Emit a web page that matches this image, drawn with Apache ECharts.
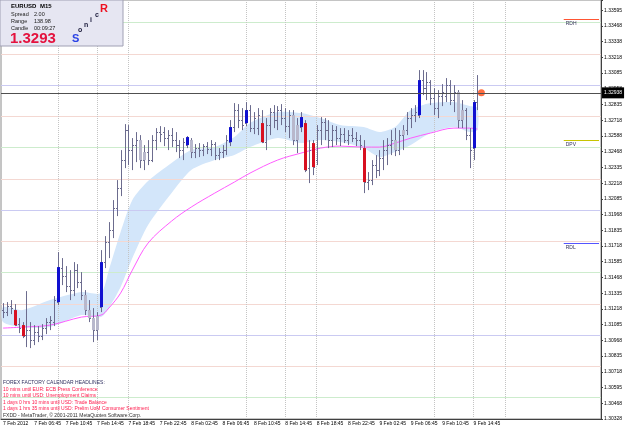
<!DOCTYPE html>
<html>
<head>
<meta charset="utf-8">
<title>EURUSD M15</title>
<script src="https://cdn.jsdelivr.net/npm/echarts@6/dist/echarts.min.js"></script>
<style>
  html, body { margin: 0; padding: 0; background: #fff; }
  #chart { width: 625px; height: 429px; }
</style>
</head>
<body>
<div id="chart"></div>
<script>
// time axis labels, one every 8 slots
const timeLabels = ['7 Feb 2012', '7 Feb 06:45', '7 Feb 10:45', '7 Feb 14:45', '7 Feb 18:45', '7 Feb 22:45',
  '8 Feb 02:45', '8 Feb 06:45', '8 Feb 10:45', '8 Feb 14:45', '8 Feb 18:45', '8 Feb 22:45',
  '9 Feb 02:45', '9 Feb 06:45', '9 Feb 10:45', '9 Feb 14:45'];

// price scale labels, bottom to top (1.32958 sits under the bid box)
const yTickLabels = ['1.30328', '1.30468', '1.30595', '1.30718', '1.30835', '1.30968', '1.31085', '1.31218',
  '1.31335', '1.31468', '1.31585', '1.31718', '1.31835', '1.31968', '1.32085', '1.32218', '1.32335',
  '1.32468', '1.32588', '1.32718', '1.32835', '1.32958', '1.33085', '1.33218', '1.33338', '1.33468', '1.33595'];
const yStep = 0.001258;
const yMin = 1036 * yStep;   // 1.303288, a multiple of the step
const yMax = 1.336808;

const opens = [
  1.312, 1.31184, 1.31232, 1.312, 1.31088, 1.3108, 1.31, 1.3104, 1.3096, 1.31024,
  1.30992, 1.31056, 1.31104, 1.31104, 1.31264, 1.31536, 1.31472, 1.31392, 1.3136, 1.3152,
  1.31424, 1.3132, 1.312, 1.31136, 1.3104, 1.31224, 1.31584, 1.31744, 1.3184, 1.32016,
  1.32176, 1.324, 1.3264, 1.3248, 1.3252, 1.3256, 1.324, 1.32464, 1.324, 1.3256,
  1.32624, 1.32624, 1.32576, 1.326, 1.3256, 1.3252, 1.3248, 1.3252, 1.3256, 1.32464,
  1.32496, 1.3248, 1.32512, 1.32488, 1.32528, 1.3244, 1.32464, 1.3248, 1.32544, 1.32664,
  1.328, 1.3272, 1.32696, 1.328, 1.32656, 1.32656, 1.32696, 1.32544, 1.3268, 1.32784,
  1.3272, 1.328, 1.32736, 1.32672, 1.3276, 1.3256, 1.32664, 1.32696, 1.32336, 1.32536,
  1.324, 1.3264, 1.32704, 1.3264, 1.3256, 1.3264, 1.32576, 1.32608, 1.3256, 1.326,
  1.32576, 1.3256, 1.32496, 1.32224, 1.3224, 1.3236, 1.3232, 1.32416, 1.3248, 1.3252,
  1.3256, 1.3248, 1.326, 1.3264, 1.32736, 1.3276, 1.3276, 1.3304, 1.32976, 1.33024,
  1.32896, 1.32816, 1.32912, 1.32912, 1.33, 1.3288, 1.32944, 1.3272, 1.328, 1.326,
  1.32496, 1.32864];
const highs = [
  1.31256, 1.31264, 1.3128, 1.31248, 1.31136, 1.31104, 1.31352, 1.31104, 1.3108, 1.31072,
  1.31088, 1.31136, 1.31152, 1.31312, 1.31664, 1.31616, 1.31552, 1.3152, 1.31584, 1.31568,
  1.31504, 1.3136, 1.3128, 1.31216, 1.31184, 1.3168, 1.31792, 1.31904, 1.3208, 1.3224,
  1.3248, 1.32688, 1.3268, 1.32576, 1.32624, 1.326, 1.3252, 1.3256, 1.326, 1.32656,
  1.32672, 1.32664, 1.3264, 1.32656, 1.32624, 1.3256, 1.32576, 1.32592, 1.32576, 1.32528,
  1.32536, 1.32528, 1.32544, 1.3256, 1.32544, 1.32496, 1.3252, 1.326, 1.3272, 1.32856,
  1.32848, 1.32816, 1.32864, 1.3284, 1.32784, 1.32816, 1.328, 1.32736, 1.32816, 1.3284,
  1.32832, 1.32848, 1.32816, 1.328, 1.328, 1.32736, 1.32784, 1.3272, 1.3256, 1.3256,
  1.3268, 1.32744, 1.32736, 1.3272, 1.3268, 1.32672, 1.32656, 1.32656, 1.3264, 1.32656,
  1.32624, 1.326, 1.3256, 1.32304, 1.324, 1.3244, 1.3248, 1.3256, 1.32576, 1.3264,
  1.32656, 1.3264, 1.3268, 1.32784, 1.32816, 1.3284, 1.3312, 1.3312, 1.33104, 1.3304,
  1.32976, 1.3296, 1.33008, 1.33056, 1.3304, 1.33, 1.3296, 1.3288, 1.32816, 1.32656,
  1.3288, 1.3308];
const lows = [
  1.31136, 1.31152, 1.31168, 1.31072, 1.31016, 1.30976, 1.30904, 1.30896, 1.3092, 1.30944,
  1.3096, 1.31008, 1.3104, 1.31072, 1.3124, 1.314, 1.31344, 1.3128, 1.31312, 1.31376,
  1.3128, 1.3116, 1.31104, 1.30944, 1.3096, 1.31184, 1.31536, 1.31616, 1.31776, 1.31952,
  1.32112, 1.32336, 1.3236, 1.3232, 1.32384, 1.32336, 1.3232, 1.3236, 1.32384, 1.3248,
  1.32544, 1.32512, 1.3248, 1.32504, 1.32464, 1.32416, 1.324, 1.32496, 1.32416, 1.32416,
  1.32424, 1.32432, 1.32448, 1.32432, 1.324, 1.324, 1.32416, 1.3244, 1.32512, 1.32624,
  1.32656, 1.3264, 1.32672, 1.32624, 1.32608, 1.326, 1.32536, 1.3248, 1.326, 1.32656,
  1.3264, 1.3268, 1.32624, 1.32576, 1.3252, 1.32456, 1.32624, 1.32304, 1.32216, 1.3228,
  1.3236, 1.3252, 1.3256, 1.32496, 1.32504, 1.3252, 1.32512, 1.32536, 1.3252, 1.32544,
  1.32512, 1.3248, 1.32136, 1.3216, 1.322, 1.32256, 1.32272, 1.3232, 1.3236, 1.3244,
  1.32432, 1.3244, 1.3248, 1.326, 1.32656, 1.32704, 1.32736, 1.3292, 1.3288, 1.3284,
  1.3276, 1.32736, 1.32832, 1.32864, 1.3284, 1.32784, 1.32656, 1.32656, 1.3256, 1.32336,
  1.324, 1.328];
const closes = [
  1.31184, 1.31232, 1.31216, 1.3108, 1.31056, 1.30992, 1.3104, 1.3096, 1.31024, 1.30992,
  1.31056, 1.31104, 1.3112, 1.3128, 1.31544, 1.31472, 1.31392, 1.3136, 1.3152, 1.31424,
  1.3132, 1.312, 1.31136, 1.3104, 1.31152, 1.31584, 1.31744, 1.3184, 1.32016, 1.32176,
  1.324, 1.3264, 1.3248, 1.3252, 1.3256, 1.324, 1.32464, 1.324, 1.3256, 1.32624,
  1.32608, 1.32576, 1.326, 1.3256, 1.3252, 1.3248, 1.32544, 1.32584, 1.32464, 1.32496,
  1.3248, 1.32512, 1.32488, 1.32528, 1.3244, 1.32464, 1.3248, 1.3256, 1.32664, 1.328,
  1.3272, 1.3268, 1.328, 1.32656, 1.32736, 1.3276, 1.32544, 1.3268, 1.32784, 1.3272,
  1.328, 1.32736, 1.32672, 1.3276, 1.3256, 1.3268, 1.32744, 1.3232, 1.3248, 1.32344,
  1.3264, 1.32704, 1.3264, 1.3256, 1.3264, 1.32576, 1.32608, 1.3256, 1.326, 1.32576,
  1.3256, 1.3252, 1.32224, 1.3224, 1.3236, 1.3232, 1.32416, 1.3248, 1.3252, 1.3256,
  1.3248, 1.326, 1.3264, 1.32736, 1.3276, 1.32784, 1.3304, 1.32976, 1.33024, 1.32896,
  1.32816, 1.32912, 1.32944, 1.33, 1.3288, 1.32944, 1.3272, 1.328, 1.326, 1.3248,
  1.32864, 1.32938];

// bars painted with a coloured body
const blueBars = [14, 25, 47, 58, 62, 76, 106, 120];
const redBars = [3, 5, 66, 77, 79, 92];
const greyBars = [21, 22, 23, 24, 35, 36, 48, 74, 75, 100, 102, 116, 117];

// dragon band and slow MA, read at these bar indices
const bandIdx = [0, 5, 12, 20, 25, 27, 30, 33, 37, 43, 48, 54, 59, 63, 70, 76, 81, 86, 92, 96, 100, 104, 109, 115, 119, 121];
const bandUpper = [1.31224, 1.312, 1.3128, 1.31344, 1.31336, 1.3152, 1.31824, 1.3208, 1.32232, 1.32376, 1.3248, 1.32504, 1.32584,
  1.32696, 1.32784, 1.32776, 1.32736, 1.3268, 1.32664, 1.32624, 1.32664, 1.328, 1.32856, 1.32864, 1.32832, 1.32816];
const bandLower = [1.31104, 1.31064, 1.31064, 1.3116, 1.31144, 1.31216, 1.31384, 1.31616, 1.3188, 1.32136, 1.3232, 1.324, 1.3244,
  1.32504, 1.32576, 1.32536, 1.3256, 1.32544, 1.32496, 1.32424, 1.32464, 1.3252, 1.32616, 1.32664, 1.32624, 1.3264];
const maIdx = [0, 5, 12, 20, 25, 27, 30, 33, 37, 43, 48, 54, 59, 63, 70, 76, 81, 86, 92, 96, 100, 104, 109, 115, 119, 121];
const maValues = [1.31056, 1.31064, 1.3108, 1.31144, 1.3116, 1.31216, 1.31336, 1.3152, 1.31736, 1.31912, 1.32024, 1.32136, 1.32224,
  1.32296, 1.324, 1.32456, 1.32496, 1.32512, 1.32504, 1.32504, 1.32536, 1.32576, 1.32616, 1.32656, 1.32656, 1.32648];

const quarterLevels = [1.3050, 1.3075, 1.3100, 1.3125, 1.3150, 1.3175, 1.3200, 1.3225, 1.3250, 1.3275, 1.3300, 1.3325, 1.3350];
const sessionLines = [14, 24, 32, 62, 72, 80, 110, 120, 128];
const levelNames = ['RDH', 'DPV', 'RDL'];
const levelPrices = [1.33528, 1.3256, 1.31736];
const levelColors = ['#ff5533', '#c8c400', '#5555ff'];
const bidPrice = 1.32938;

const calendarHead = 'FOREX FACTORY CALENDAR HEADLINES:';
const calendarLines = ['10 mins until EUR: ECB Press Conference', '10 mins until USD: Unemployment Claims',
  '1 days 0 hrs 10 mins until USD: Trade Balance', '1 days 1 hrs 35 mins until USD: Prelim UoM Consumer Sentiment'];

const slotCount = 153;
const FONT = '"Liberation Sans", Arial, sans-serif';

const blueSet = new Set(blueBars), redSet = new Set(redBars), greySet = new Set(greyBars);

function bodyColor(j) {
  if (blueSet.has(j)) return '#1010d0';
  if (redSet.has(j)) return '#d81020';
  if (greySet.has(j)) return '#b8b8cc';
  return null;
}

function drawBar(params, api) {
  const j = api.value(0);
  const x = Math.round(api.coord([j, yMin])[0]) + 0.5;
  const yO = api.coord([j, api.value(1)])[1];
  const yH = api.coord([j, api.value(2)])[1];
  const yL = api.coord([j, api.value(3)])[1];
  const yC = api.coord([j, api.value(4)])[1];
  const stroke = '#6c6c8e';
  const kids = [
    { type: 'line', shape: { x1: x, y1: yH, x2: x, y2: yL }, style: { stroke, lineWidth: 1 } },
    { type: 'line', shape: { x1: x - 1.5, y1: Math.round(yO) + 0.5, x2: x, y2: Math.round(yO) + 0.5 }, style: { stroke, lineWidth: 1 } },
    { type: 'line', shape: { x1: x, y1: Math.round(yC) + 0.5, x2: x + 1.5, y2: Math.round(yC) + 0.5 }, style: { stroke, lineWidth: 1 } }
  ];
  const body = bodyColor(j);
  if (body) {
    kids.push({ type: 'rect', shape: { x: x - 1.5, y: Math.min(yO, yC), width: 3, height: Math.max(1, Math.abs(yC - yO)) }, style: { fill: body } });
  }
  return { type: 'group', children: kids };
}

function drawBand(params, api) {
  if (params.dataIndex !== 0) return null;
  const top = bandIdx.map((j, k) => api.coord([j, bandUpper[k]]));
  const bottom = bandIdx.map((j, k) => api.coord([j, bandLower[k]])).reverse();
  return { type: 'polygon', shape: { points: top.concat(bottom), smooth: 0.25 }, style: { fill: '#d3e6fa' } };
}

function levelColor(l) {
  const r = Math.round(l * 10000) % 100;
  if (r === 0) return '#cacaf2';
  if (r === 50) return '#cdeccd';
  return '#f4d8d2';
}

const labelEvery = (i) => i % 8 === 0 && i / 8 < timeLabels.length;

const txt = (text, x, y, font, fill) => ({
  type: 'text', x, y, z: 100, silent: true,
  style: { text, font, fill, textVerticalAlign: 'top' }
});

const graphics = [
  { type: 'rect', x: 0, y: 0, z: 99, shape: { width: 123, height: 46 }, style: { fill: '#e6e6f2', stroke: '#a0a0b4', lineWidth: 1 }, silent: true },
  txt('EURUSD', 11, 3, 'bold 6px ' + FONT, '#000'),
  txt('M15', 40, 3, 'bold 6px ' + FONT, '#000'),
  txt('Spread', 11, 11, '5.5px ' + FONT, '#202020'),
  txt('2.00', 34, 11, '5.5px ' + FONT, '#202020'),
  txt('Range', 11, 18, '5.5px ' + FONT, '#202020'),
  txt('138.98', 34, 18, '5.5px ' + FONT, '#202020'),
  txt('Candle', 11, 25, '5.5px ' + FONT, '#202020'),
  txt('00:09:27', 34, 25, '5.5px ' + FONT, '#202020'),
  txt('1.3293', 10, 31.5, 'bold 15px ' + FONT, '#e4123e'),
  txt('S', 72, 33.5, 'bold 11px ' + FONT, '#2a42e6'),
  txt('o', 78, 26.5, 'bold 7px ' + FONT, '#202040'),
  txt('n', 84, 21.5, 'bold 7px ' + FONT, '#202040'),
  txt('i', 90, 17, 'bold 7px ' + FONT, '#202040'),
  txt('c', 95, 12, 'bold 7px ' + FONT, '#202040'),
  txt('R', 100, 3, 'bold 11px ' + FONT, '#ee1020'),
  txt(calendarHead, 3, 380.5, '5px ' + FONT, '#303060'),
  txt('FXDD - MetaTrader, \u00a9 2001-2011 MetaQuotes Software Corp.', 3, 413.5, '5px ' + FONT, '#303030')
].concat(calendarLines.map((t, k) => txt(t, 3, 387.5 + k * 6.1, '5px ' + FONT, '#ff1a4c')));

// shared price-axis settings; the second copy only carries the labels
const priceAxis = {
  type: 'value',
  position: 'right',
  min: yMin, max: yMax, interval: yStep,
  axisLine: { show: true, lineStyle: { color: '#404040', width: 1 } },
  axisTick: { show: true, length: 2, lineStyle: { color: '#404040' } },
  splitLine: { show: false }
};

const chart = echarts.init(document.getElementById('chart'), null, { renderer: 'canvas' });

chart.setOption({
  animation: false,
  backgroundColor: '#ffffff',
  textStyle: { fontFamily: FONT },
  grid: { left: 1, right: 24, top: 0, bottom: 10, show: true, borderColor: '#8a8a8a', borderWidth: 1, outerBoundsMode: 'none' },
  xAxis: {
    type: 'category',
    data: Array.from({ length: slotCount }, (_, i) => i),
    boundaryGap: true,
    axisLine: { lineStyle: { color: '#404040', width: 1 } },
    axisTick: { interval: labelEvery, alignWithLabel: true, length: 2, lineStyle: { color: '#404040' } },
    axisLabel: {
      interval: labelEvery,
      formatter: (v, i) => timeLabels[i / 8] || '',
      fontSize: 5, color: '#000', align: 'left', margin: 2
    },
    splitLine: { show: false }
  },
  yAxis: [
    Object.assign({}, priceAxis, { axisLabel: { show: false } }),
    Object.assign({}, priceAxis, {
      axisLabel: {
        fontSize: 5, color: '#000', margin: 3, hideOverlap: false,
        showMinLabel: true, showMaxLabel: true,
        formatter: (v) => yTickLabels[Math.round((v - yMin) / yStep)] || ''
      }
    })
  ],
  graphic: graphics,
  series: [
    {
      name: 'band', type: 'custom', z: 1, silent: true,
      renderItem: drawBand,
      encode: { x: 0, y: [1, 2] },
      data: bandIdx.map((j, k) => [j, bandUpper[k], bandLower[k]])
    },
    {
      name: 'ma', type: 'line', z: 2, silent: true,
      data: maIdx.map((j, k) => [j, maValues[k]]),
      smooth: 0.35, showSymbol: false, symbol: 'none',
      lineStyle: { color: '#ff5cff', width: 1 },
      markLine: {
        z: 2, silent: true, symbol: ['none', 'none'], animation: false, precision: 5,
        label: { show: false },
        data: quarterLevels.map(l => ({ yAxis: l, lineStyle: { color: levelColor(l), type: 'solid', width: 1 } }))
          .concat(sessionLines.map(j => ({ xAxis: j, lineStyle: { color: '#c4c4c4', type: 'dotted', width: 1 } })))
      }
    },
    {
      name: 'bars', type: 'custom', z: 3, silent: true,
      renderItem: drawBar,
      encode: { x: 0, y: [1, 2, 3, 4] },
      data: opens.map((o, j) => [j, o, highs[j], lows[j], closes[j]])
    },
    {
      name: 'bid', type: 'scatter', z: 4, silent: true,
      data: [[opens.length, bidPrice]],
      symbolSize: 7,
      itemStyle: { color: '#ff4a12' },
      markLine: {
        silent: true, symbol: ['none', 'none'], animation: false, precision: 5,
        data: [
          {
            yAxis: bidPrice,
            lineStyle: { color: '#505050', width: 1, type: 'solid' },
            label: {
              show: true, position: 'end', distance: 1, formatter: bidPrice.toFixed(5),
              backgroundColor: '#000', color: '#fff', fontSize: 5, padding: [3, 2, 3, 2]
            }
          }
        ].concat(levelNames.map((n, k) => [
          {
            coord: [143, levelPrices[k]],
            lineStyle: { color: levelColors[k], width: 1, type: 'solid' },
            label: { show: true, position: 'insideStartBottom', formatter: n, fontSize: 5, color: '#34345a', distance: [2, 2] }
          },
          { coord: [slotCount - 1, levelPrices[k]] }
        ]))
      }
    }
  ]
});
</script>
</body>
</html>
